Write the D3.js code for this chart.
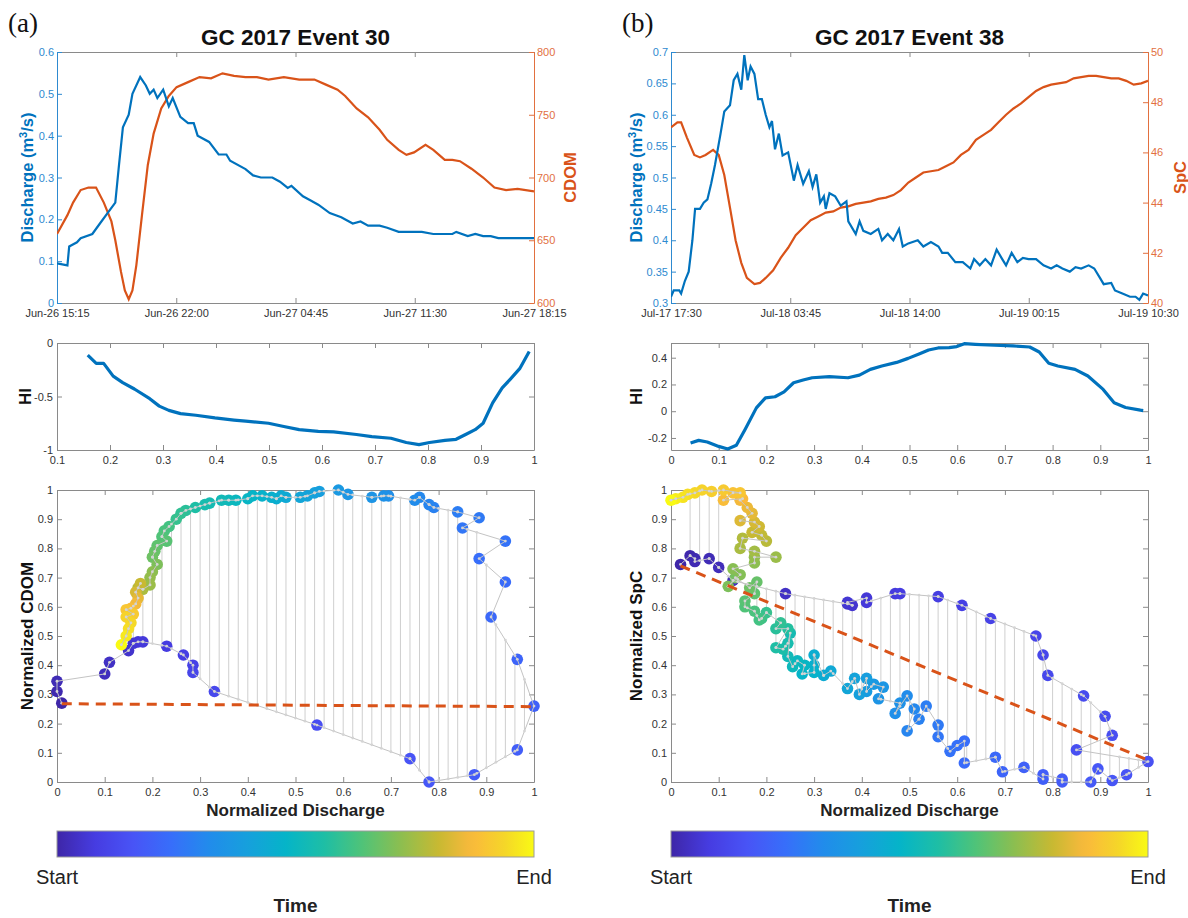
<!DOCTYPE html>
<html><head><meta charset="utf-8">
<script src="https://cdn.jsdelivr.net/npm/d3@7"></script>
<style>body{margin:0;background:#fff} svg text{font-family:"Liberation Sans",Arial,sans-serif}</style>
</head><body><svg id="c" width="1188" height="918"></svg>
<script>
// ---------------- DATA ----------------
const titles = ["GC 2017 Event 30", "GC 2017 Event 38"];
const panelTags = ["(a)", "(b)"];
const aTimeTicks = ["Jun-26 15:15","Jun-26 22:00","Jun-27 04:45","Jun-27 11:30","Jun-27 18:15"];
const bTimeTicks = ["Jul-17 17:30","Jul-18 03:45","Jul-18 14:00","Jul-19 00:15","Jul-19 10:30"];
// [hours since first tick, value]
const aDischarge = [[0,0.095],[0.59,0.09],[0.69,0.135],[1.13,0.145],[1.34,0.155],[2.0,0.165],[2.43,0.19],[2.86,0.215],[3.3,0.24],[3.51,0.33],[3.73,0.42],[4.06,0.45],[4.27,0.5],[4.71,0.54],[5.03,0.52],[5.25,0.5],[5.47,0.51],[5.68,0.49],[6.01,0.51],[6.33,0.47],[6.55,0.49],[6.98,0.445],[7.42,0.43],[7.74,0.43],[7.96,0.4],[8.61,0.385],[9.15,0.355],[9.59,0.355],[9.8,0.34],[10.67,0.32],[11.1,0.305],[11.54,0.3],[12.19,0.3],[12.62,0.29],[13.06,0.275],[13.27,0.28],[13.92,0.255],[14.36,0.245],[14.79,0.235],[15.44,0.215],[16.09,0.205],[16.74,0.19],[17.18,0.195],[17.61,0.185],[18.26,0.185],[18.69,0.18],[19.34,0.17],[20.65,0.17],[21.3,0.165],[22.38,0.165],[22.6,0.17],[23.25,0.16],[23.68,0.165],[24.12,0.16],[24.55,0.16],[24.98,0.155],[25.85,0.155],[27,0.155]];
const aCdom = [[0,655],[0.59,670],[0.91,680],[1.34,690],[1.78,692],[2.21,692],[2.65,680],[3.08,665],[3.3,650],[3.62,625],[3.84,610],[4.06,603],[4.27,610],[4.49,630],[4.81,670],[5.14,710],[5.47,735],[5.9,755],[6.33,765],[6.77,772],[7.42,776],[8.07,780],[8.72,779],[9.37,783],[10.02,781],[10.67,780],[11.32,780],[11.97,778],[12.84,780],[13.71,778],[14.57,778],[15.22,774],[15.88,770],[16.31,765],[16.96,755],[17.61,748],[18.26,738],[18.69,730],[19.34,722],[19.78,718],[20.21,720],[20.86,726],[21.3,722],[21.95,714],[22.38,714],[22.81,713],[23.46,707],[24.12,700],[24.76,692],[25.42,690],[26.07,691],[27,689]];
const bDischarge = [[0,0.31],[0.23,0.32],[0.71,0.32],[0.87,0.315],[1.19,0.335],[1.52,0.35],[1.84,0.4],[2.07,0.45],[2.49,0.45],[2.81,0.46],[3.13,0.465],[3.45,0.49],[3.78,0.52],[4.26,0.57],[4.58,0.605],[5.07,0.615],[5.39,0.655],[5.71,0.665],[6.04,0.64],[6.3,0.695],[6.59,0.655],[6.84,0.677],[7.17,0.665],[7.49,0.625],[7.81,0.625],[8.14,0.6],[8.46,0.58],[8.68,0.59],[8.94,0.545],[9.27,0.57],[9.59,0.535],[10.07,0.54],[10.56,0.495],[10.88,0.52],[11.36,0.49],[11.85,0.51],[12.17,0.485],[12.49,0.505],[12.82,0.46],[13.14,0.47],[13.3,0.45],[13.62,0.475],[14.11,0.47],[14.59,0.455],[15.08,0.462],[15.24,0.43],[15.88,0.41],[16.21,0.43],[16.53,0.415],[17.17,0.41],[17.82,0.418],[18.14,0.4],[18.63,0.41],[19.11,0.4],[19.6,0.418],[19.92,0.39],[20.4,0.395],[21.21,0.4],[21.69,0.39],[22.34,0.397],[22.99,0.39],[23.31,0.38],[23.79,0.38],[24.44,0.365],[25.08,0.365],[25.73,0.355],[26.05,0.37],[26.54,0.36],[27.02,0.37],[27.51,0.36],[27.99,0.385],[28.47,0.37],[28.8,0.36],[29.28,0.38],[29.77,0.365],[30.25,0.372],[30.73,0.37],[31.38,0.37],[32.02,0.36],[32.67,0.355],[33.15,0.36],[33.64,0.355],[34.28,0.35],[34.77,0.357],[35.25,0.355],[35.9,0.36],[36.38,0.355],[36.87,0.34],[37.19,0.33],[37.84,0.332],[38.16,0.32],[38.8,0.315],[39.45,0.31],[39.93,0.31],[40.26,0.305],[40.58,0.315],[41,0.312]];
const bSpc = [[0,47.0],[0.55,47.2],[0.87,47.2],[1.36,46.6],[2.0,45.9],[2.49,45.8],[2.97,45.9],[3.62,46.1],[4.1,45.9],[4.58,45.1],[5.07,43.8],[5.55,42.5],[6.04,41.6],[6.52,41.0],[7.17,40.75],[7.65,40.8],[8.14,41.0],[8.78,41.3],[9.43,41.8],[10.07,42.2],[10.72,42.7],[11.36,43.0],[12.01,43.3],[12.66,43.45],[13.3,43.6],[13.95,43.65],[14.59,43.8],[15.24,43.85],[15.88,43.95],[16.53,44.0],[17.17,44.05],[17.82,44.15],[18.47,44.2],[19.11,44.3],[19.76,44.5],[20.4,44.8],[21.05,45.0],[21.69,45.2],[22.34,45.25],[22.99,45.3],[23.63,45.45],[24.28,45.6],[24.92,45.9],[25.57,46.1],[26.21,46.5],[26.86,46.7],[27.51,46.9],[28.15,47.2],[28.8,47.5],[29.44,47.75],[30.09,47.95],[30.73,48.2],[31.38,48.45],[32.02,48.6],[32.67,48.7],[33.32,48.75],[33.96,48.8],[34.61,48.95],[35.25,49.0],[35.9,49.05],[36.54,49.05],[37.19,49.0],[37.84,48.95],[38.48,48.95],[39.13,48.85],[39.77,48.7],[40.42,48.75],[41,48.85]];
const aQTicks = [0,0.1,0.2,0.3,0.4,0.5,0.6];
const aCdomTicks = [600,650,700,750,800];
const bQTicks = [0.3,0.35,0.4,0.45,0.5,0.55,0.6,0.65,0.7];
const bSpcTicks = [40,42,44,46,48,50];
// hysteresis index [normalized discharge, HI]
const aHI = [[0.158,-0.114],[0.174,-0.19],[0.188,-0.19],[0.206,-0.31],[0.224,-0.37],[0.246,-0.43],[0.275,-0.52],[0.293,-0.59],[0.311,-0.63],[0.333,-0.66],[0.362,-0.675],[0.398,-0.70],[0.434,-0.72],[0.456,-0.73],[0.499,-0.75],[0.528,-0.78],[0.557,-0.81],[0.593,-0.826],[0.622,-0.83],[0.665,-0.855],[0.694,-0.875],[0.73,-0.89],[0.759,-0.93],[0.783,-0.95],[0.803,-0.93],[0.832,-0.91],[0.853,-0.90],[0.871,-0.855],[0.889,-0.81],[0.904,-0.75],[0.922,-0.56],[0.94,-0.42],[0.955,-0.34],[0.973,-0.24],[0.991,-0.08]];
const bHI = [[0.041,-0.238],[0.058,-0.218],[0.076,-0.23],[0.1,-0.263],[0.119,-0.283],[0.137,-0.255],[0.155,-0.138],[0.179,0.025],[0.198,0.10],[0.218,0.108],[0.237,0.145],[0.257,0.213],[0.277,0.233],[0.296,0.25],[0.332,0.258],[0.371,0.25],[0.395,0.27],[0.418,0.313],[0.442,0.338],[0.473,0.365],[0.497,0.395],[0.52,0.428],[0.54,0.458],[0.56,0.473],[0.583,0.475],[0.599,0.483],[0.615,0.505],[0.638,0.50],[0.678,0.493],[0.717,0.488],[0.752,0.48],[0.772,0.443],[0.792,0.358],[0.811,0.338],[0.847,0.313],[0.874,0.263],[0.906,0.163],[0.929,0.063],[0.953,0.028],[0.984,0.008],[0.99,0.005]];
const aHITicks = [-1,-0.5,0];
const aHIXTicks = [0.1,0.2,0.3,0.4,0.5,0.6,0.7,0.8,0.9,1];
const bHITicks = [-0.2,0,0.2,0.4];
const unitTicks = [0,0.1,0.2,0.3,0.4,0.5,0.6,0.7,0.8,0.9,1];
// hysteresis loops: [normalized discharge, normalized solute, time fraction]
const aLoop = [[0.01,0.27,0.00],[0.0,0.31,0.01],[0.0,0.345,0.02],[0.10,0.37,0.03],[0.11,0.41,0.04],[0.15,0.45,0.05],[0.16,0.475,0.06],[0.17,0.48,0.065],[0.18,0.48,0.07],[0.23,0.465,0.08],[0.265,0.435,0.09],[0.285,0.40,0.10],[0.285,0.375,0.11],[0.33,0.31,0.12],[0.545,0.195,0.14],[0.74,0.08,0.16],[0.78,0.0,0.17],[0.875,0.025,0.18],[0.965,0.11,0.19],[1.0,0.26,0.20],
[0.965,0.42,0.21],[0.91,0.565,0.22],[0.94,0.685,0.23],[0.885,0.765,0.24],[0.94,0.825,0.25],[0.85,0.87,0.26],[0.885,0.905,0.27],[0.84,0.925,0.28],[0.79,0.94,0.29],[0.78,0.95,0.30],[0.76,0.975,0.31],[0.75,0.965,0.32],[0.695,0.98,0.33],[0.685,0.98,0.34],[0.66,0.975,0.35],[0.61,0.985,0.36],[0.59,1.0,0.37],[0.55,0.995,0.39],[0.54,0.99,0.40],[0.525,0.98,0.41],[0.51,0.975,0.42],[0.48,0.975,0.43],[0.47,0.98,0.44],[0.46,0.97,0.45],[0.45,0.975,0.46],[0.43,0.98,0.47],[0.41,0.98,0.48],[0.40,0.97,0.49],[0.375,0.965,0.50],[0.36,0.965,0.51],[0.345,0.965,0.52],[0.32,0.955,0.53],[0.31,0.95,0.54],[0.29,0.94,0.56],[0.27,0.93,0.58],[0.26,0.92,0.59],[0.25,0.90,0.60],[0.235,0.875,0.62],[0.225,0.86,0.63],[0.22,0.84,0.64],[0.23,0.825,0.65],[0.21,0.81,0.66],[0.205,0.79,0.67],[0.20,0.77,0.68],[0.21,0.745,0.70],[0.20,0.72,0.72],[0.195,0.70,0.73],[0.195,0.675,0.74],[0.18,0.66,0.76],[0.17,0.665,0.78],[0.175,0.68,0.80],[0.165,0.65,0.82],[0.17,0.63,0.84],[0.165,0.61,0.86],[0.155,0.595,0.88],[0.145,0.59,0.90],[0.16,0.575,0.91],[0.145,0.565,0.93],[0.155,0.545,0.94],[0.15,0.525,0.95],[0.145,0.50,0.97],[0.135,0.47,1.0]];
const bLoop = [[0.02,0.745,0.0],[0.04,0.775,0.005],[0.05,0.765,0.01],[0.05,0.755,0.015],[0.08,0.765,0.02],[0.10,0.735,0.025],[0.13,0.69,0.03],[0.24,0.645,0.04],[0.37,0.61,0.05],[0.38,0.605,0.055],[0.37,0.615,0.06],[0.41,0.63,0.065],[0.41,0.615,0.07],[0.47,0.645,0.075],[0.48,0.645,0.08],[0.56,0.635,0.085],[0.61,0.605,0.09],[0.67,0.56,0.10],[0.765,0.50,0.11],[0.78,0.435,0.115],[0.79,0.365,0.12],[0.865,0.295,0.13],[0.91,0.225,0.135],[0.925,0.16,0.14],[0.85,0.11,0.145],[1.0,0.07,0.15],
[0.955,0.025,0.16],[0.925,0.005,0.165],[0.895,0.045,0.17],[0.88,0.0,0.175],[0.82,0.0,0.18],[0.82,0.01,0.185],[0.78,0.025,0.19],[0.78,0.01,0.195],[0.74,0.05,0.2],[0.695,0.035,0.21],[0.68,0.085,0.22],[0.615,0.065,0.23],[0.615,0.14,0.24],[0.60,0.125,0.245],[0.585,0.105,0.25],[0.56,0.155,0.26],[0.56,0.195,0.27],[0.535,0.26,0.28],[0.52,0.215,0.29],[0.495,0.175,0.3],[0.51,0.25,0.31],[0.495,0.295,0.32],[0.47,0.235,0.33],[0.48,0.27,0.34],[0.435,0.285,0.35],[0.445,0.325,0.36],[0.425,0.335,0.37],[0.41,0.31,0.38],[0.41,0.355,0.39],[0.395,0.30,0.4],[0.385,0.355,0.41],[0.37,0.32,0.42],[0.335,0.38,0.43],[0.32,0.365,0.44],[0.30,0.435,0.45],[0.30,0.40,0.46],[0.30,0.375,0.47],[0.275,0.37,0.48],[0.28,0.40,0.49],[0.265,0.415,0.5],[0.255,0.395,0.51],[0.245,0.43,0.52],[0.25,0.51,0.53],[0.245,0.475,0.54],[0.235,0.455,0.55],[0.22,0.46,0.56],[0.245,0.525,0.57],[0.22,0.525,0.58],[0.23,0.545,0.59],[0.20,0.58,0.6],[0.19,0.56,0.61],[0.185,0.555,0.62],[0.175,0.585,0.63],[0.155,0.60,0.64],[0.155,0.62,0.65],[0.175,0.645,0.66],[0.18,0.685,0.67],[0.165,0.665,0.68],[0.135,0.70,0.69],[0.12,0.67,0.7],[0.145,0.71,0.71],[0.13,0.73,0.715],[0.175,0.75,0.72],[0.175,0.77,0.73],[0.22,0.77,0.74],[0.175,0.79,0.75],[0.145,0.80,0.76],[0.15,0.835,0.77],[0.20,0.825,0.78],[0.19,0.845,0.79],[0.17,0.855,0.8],[0.185,0.875,0.81],[0.175,0.89,0.82],[0.145,0.895,0.83],[0.17,0.92,0.84],[0.16,0.94,0.85],[0.145,0.965,0.86],[0.15,0.97,0.87],[0.11,0.965,0.88],[0.13,0.99,0.89],[0.145,0.99,0.9],[0.11,1.0,0.91],[0.085,0.995,0.92],[0.065,1.0,0.93],[0.05,0.99,0.94],[0.035,0.985,0.95],[0.025,0.975,0.96],[0.01,0.97,0.98],[0.0,0.965,1.0]];
// linear fits [x, y] endpoints
const aFit = [[0.01,0.268],[1.0,0.258]];
const bFit = [[0.02,0.74],[1.0,0.075]];
const colorbarLabels = ["Start","End"];

// ---------------- STYLE / LAYOUT ----------------
const BLUE = "#0072BD", ORANGE = "#D95319", BLUE_T = "#2e8ad0", ORANGE_T = "#e2703f";
const AX = "#8a8a8a", TXT = "#333";
const parulaStops = [[0,[62,38,168]],[0.08,[70,60,225]],[0.16,[72,84,246]],[0.24,[55,110,250]],[0.32,[33,140,235]],[0.40,[22,160,220]],[0.48,[5,180,200]],[0.56,[30,190,165]],[0.64,[80,195,120]],[0.72,[140,190,80]],[0.80,[200,185,50]],[0.87,[250,185,60]],[0.94,[245,215,40]],[1.0,[249,250,20]]];
const parula = d3.scaleLinear().domain(parulaStops.map(d=>d[0])).range(parulaStops.map(d=>d3.rgb(...d[1]).toString())).interpolate(d3.interpolateRgb);

const PX = [{x0:57,x1:534},{x0:671,x1:1148}];
const TOP = {y0:52,y1:303}, HIB = {y0:343,y1:450}, SC = {y0:490,y1:782}, CB = {y0:831,y1:857};
const svg = d3.select("#c");
const fmt = d => String(+(+d).toFixed(3));
const parseT = s => d3.timeParse("%Y %b-%d %H:%M")("2017 " + s);

function styleAxis(g, color, textColor){
  g.selectAll(".domain").attr("stroke", color).attr("stroke-width",1);
  g.selectAll(".tick line").attr("stroke", color);
  g.selectAll(".tick text").attr("fill", textColor).style("font-size","11px").style("font-family","'Liberation Sans',Arial,sans-serif");
}
function boxAxes(x, y, B, xt, yt, xfmt, yfmt){
  const gb = svg.append("g").attr("transform",`translate(0,${B.y1})`)
    .call(d3.axisBottom(x).tickValues(xt).tickFormat(xfmt).tickSize(-5).tickSizeOuter(0).tickPadding(6));
  styleAxis(gb, AX, TXT);
  const gt = svg.append("g").attr("transform",`translate(0,${B.y0})`)
    .call(d3.axisTop(x).tickValues(xt).tickFormat("").tickSize(-5).tickSizeOuter(0));
  styleAxis(gt, AX, TXT);
}

function rotLabel(x, y, text, size, color){
  return svg.append("text").attr("transform",`translate(${x},${y}) rotate(-90)`).attr("text-anchor","middle")
    .style("font-size",size+"px").style("font-weight","bold").attr("fill",color).text(text);
}

// ---------------- TOP PANELS ----------------
function topPanel(i, tickLabels, qData, qDom, qTicks, rData, rDom, rTicks, rName, leftLabX, rightLabX){
  const P = PX[i];
  const tickDates = tickLabels.map(parseT);
  const t0 = tickDates[0];
  const toDate = h => new Date(t0.getTime() + h*3600e3);
  const x = d3.scaleTime().domain([tickDates[0], tickDates[tickDates.length-1]]).range([P.x0,P.x1]);
  const yq = d3.scaleLinear().domain(qDom).range([TOP.y1,TOP.y0]);
  const yr = d3.scaleLinear().domain(rDom).range([TOP.y1,TOP.y0]);
  boxAxes(x, yq, TOP, tickDates, null, d3.timeFormat("%b-%d %H:%M"), null);
  const gl = svg.append("g").attr("transform",`translate(${P.x0},0)`)
    .call(d3.axisLeft(yq).tickValues(qTicks).tickFormat(fmt).tickSize(-5).tickSizeOuter(0).tickPadding(3));
  styleAxis(gl, BLUE_T, BLUE_T);
  const gr = svg.append("g").attr("transform",`translate(${P.x1},0)`)
    .call(d3.axisRight(yr).tickValues(rTicks).tickFormat(fmt).tickSize(-5).tickSizeOuter(0).tickPadding(3));
  styleAxis(gr, ORANGE_T, ORANGE_T);
  const clipId = "clipTop"+i;
  svg.append("clipPath").attr("id",clipId).append("rect").attr("x",P.x0).attr("y",TOP.y0-2).attr("width",P.x1-P.x0).attr("height",TOP.y1-TOP.y0+2);
  svg.append("path").attr("clip-path",`url(#${clipId})`).datum(rData).attr("fill","none").attr("stroke",ORANGE).attr("stroke-width",2.2)
    .attr("d", d3.line().x(d=>x(toDate(d[0]))).y(d=>yr(d[1])));
  svg.append("path").attr("clip-path",`url(#${clipId})`).datum(qData).attr("fill","none").attr("stroke",BLUE).attr("stroke-width",2.2)
    .attr("d", d3.line().x(d=>x(toDate(d[0]))).y(d=>yq(d[1])));
  const yc = (TOP.y0+TOP.y1)/2;
  const lab = svg.append("text").attr("transform",`translate(${leftLabX},${yc}) rotate(-90)`).attr("text-anchor","middle")
    .style("font-size","16.5px").style("font-weight","bold").attr("fill",BLUE);
  lab.append("tspan").text("Discharge (m");
  lab.append("tspan").attr("dy",-6).style("font-size","11px").text("3");
  lab.append("tspan").attr("dy",6).text("/s)");
  rotLabel(rightLabX, yc, rName, 16.5, ORANGE);
  svg.append("text").attr("x",(P.x0+P.x1)/2).attr("y",45).attr("text-anchor","middle")
    .style("font-size","22.5px").style("font-weight","bold").attr("fill","#111").text(titles[i]);
  svg.append("text").attr("x",P.x0-49).attr("y",32).style("font-family","'Liberation Serif','Times New Roman',serif")
    .style("font-size","27px").attr("fill","#111").text(panelTags[i]);
}
topPanel(0, aTimeTicks, aDischarge, [0,0.6], aQTicks, aCdom, [600,800], aCdomTicks, "CDOM", 33, 576);
topPanel(1, bTimeTicks, bDischarge, [0.3,0.7], bQTicks, bSpc, [40,50], bSpcTicks, "SpC", 642, 1186);

// ---------------- HI PANELS ----------------
function hiPanel(i, data, xDom, xTicks, yDom, yTicks, labX){
  const P = PX[i];
  const x = d3.scaleLinear().domain(xDom).range([P.x0,P.x1]);
  const y = d3.scaleLinear().domain(yDom).range([HIB.y1,HIB.y0]);
  boxAxes(x, y, HIB, xTicks, null, fmt, null);
  const gl = svg.append("g").attr("transform",`translate(${P.x0},0)`)
    .call(d3.axisLeft(y).tickValues(yTicks).tickFormat(fmt).tickSize(-5).tickSizeOuter(0).tickPadding(4));
  styleAxis(gl, AX, TXT);
  const gr = svg.append("g").attr("transform",`translate(${P.x1},0)`)
    .call(d3.axisRight(y).tickValues(yTicks).tickFormat("").tickSize(-5).tickSizeOuter(0));
  styleAxis(gr, AX, TXT);
  const clipId = "clipHI"+i;
  svg.append("clipPath").attr("id",clipId).append("rect").attr("x",P.x0).attr("y",HIB.y0-1).attr("width",P.x1-P.x0).attr("height",HIB.y1-HIB.y0+2);
  svg.append("path").attr("clip-path",`url(#${clipId})`).datum(data).attr("fill","none").attr("stroke",BLUE).attr("stroke-width",3.2)
    .attr("stroke-linejoin","round").attr("d", d3.line().x(d=>x(d[0])).y(d=>y(d[1])));
  rotLabel(labX, (HIB.y0+HIB.y1)/2, "HI", 17, "#111");
}
hiPanel(0, aHI, [0.1,1], aHIXTicks, [-1,0], aHITicks, 31);
hiPanel(1, bHI, [0,1], unitTicks, [-0.29,0.51], bHITicks, 642);

// ---------------- LOOP PANELS ----------------
function limbAt(pts, xv){
  for (let k=0;k<pts.length-1;k++){
    const a=pts[k], b=pts[k+1];
    if (a[0]!==b[0] && (a[0]-xv)*(b[0]-xv)<=0) return a[1]+(b[1]-a[1])*(xv-a[0])/(b[0]-a[0]);
  }
  return null;
}
function loopPanel(i, loop, fit, gridStart, yName, labX){
  const P = PX[i];
  const x = d3.scaleLinear().domain([0,1]).range([P.x0,P.x1]);
  const y = d3.scaleLinear().domain([0,1]).range([SC.y1,SC.y0]);
  boxAxes(x, y, SC, unitTicks, null, fmt, null);
  const gl = svg.append("g").attr("transform",`translate(${P.x0},0)`)
    .call(d3.axisLeft(y).tickValues(unitTicks).tickFormat(fmt).tickSize(-5).tickSizeOuter(0).tickPadding(4));
  styleAxis(gl, AX, TXT);
  const gr = svg.append("g").attr("transform",`translate(${P.x1},0)`)
    .call(d3.axisRight(y).tickValues(unitTicks).tickFormat("").tickSize(-5).tickSizeOuter(0));
  styleAxis(gr, AX, TXT);
  const peak = d3.maxIndex(loop, d=>d[0]);
  const rising = loop.slice(0,peak+1), falling = loop.slice(peak);
  const grid = d3.range(gridStart, 0.9801, 0.02);
  const vl = [];
  grid.forEach(g=>{
    const r = limbAt(rising, g), f = limbAt(falling, g);
    if (r!==null && f!==null) vl.push([g,r,f]);
  });
  svg.append("g").selectAll("line").data(vl).join("line")
    .attr("x1",d=>x(d[0])).attr("x2",d=>x(d[0])).attr("y1",d=>y(d[1])).attr("y2",d=>y(d[2]))
    .attr("stroke","#cfcfcf").attr("stroke-width",1);
  svg.append("g").selectAll("circle").data(loop).join("circle")
    .attr("cx",d=>x(d[0])).attr("cy",d=>y(d[1])).attr("r",5.8).attr("fill",d=>parula(d[2]));
  svg.append("path").datum(loop).attr("fill","none").attr("stroke","#c4c4c4").attr("stroke-width",1)
    .attr("d", d3.line().x(d=>x(d[0])).y(d=>y(d[1])));
  const dots = [];
  vl.forEach(d=>{dots.push([d[0],d[1]]); dots.push([d[0],d[2]]);});
  loop.forEach(d=>dots.push([d[0],d[1]]));
  svg.append("g").selectAll("circle").data(dots).join("circle")
    .attr("cx",d=>x(d[0])).attr("cy",d=>y(d[1])).attr("r",1.4).attr("fill","#d4d4d4");
  svg.append("path").datum(fit).attr("fill","none").attr("stroke",ORANGE).attr("stroke-width",3)
    .attr("stroke-dasharray","10,7").attr("d", d3.line().x(d=>x(d[0])).y(d=>y(d[1])));
  rotLabel(labX, (SC.y0+SC.y1)/2, yName, 17, "#111");
  svg.append("text").attr("x",(P.x0+P.x1)/2).attr("y",816).attr("text-anchor","middle")
    .style("font-size","17px").style("font-weight","bold").attr("fill","#222").text("Normalized Discharge");
}
loopPanel(0, aLoop, aFit, 0.16, "Normalized CDOM", 33);
loopPanel(1, bLoop, bFit, 0.04, "Normalized SpC", 642);

// ---------------- COLORBARS ----------------
const grad = svg.append("defs").append("linearGradient").attr("id","parulaGrad").attr("x1","0%").attr("x2","100%");
d3.range(0,1.0001,0.02).forEach(t=>grad.append("stop").attr("offset",(t*100)+"%").attr("stop-color",parula(t)));
PX.forEach(P=>{
  svg.append("rect").attr("x",P.x0).attr("y",CB.y0).attr("width",P.x1-P.x0).attr("height",CB.y1-CB.y0)
    .attr("fill","url(#parulaGrad)").attr("stroke","#9a9a9a").attr("stroke-width",1);
  const xs = d3.scaleLinear().domain([0,1]).range([P.x0,P.x1]);
  colorbarLabels.forEach((s,k)=>{
    svg.append("text").attr("x",xs(k)).attr("y",884).attr("text-anchor","middle")
      .style("font-size","20px").attr("fill","#222").text(s);
  });
  svg.append("text").attr("x",(P.x0+P.x1)/2).attr("y",912).attr("text-anchor","middle")
    .style("font-size","19px").style("font-weight","bold").attr("fill","#222").text("Time");
});
</script></body></html>
